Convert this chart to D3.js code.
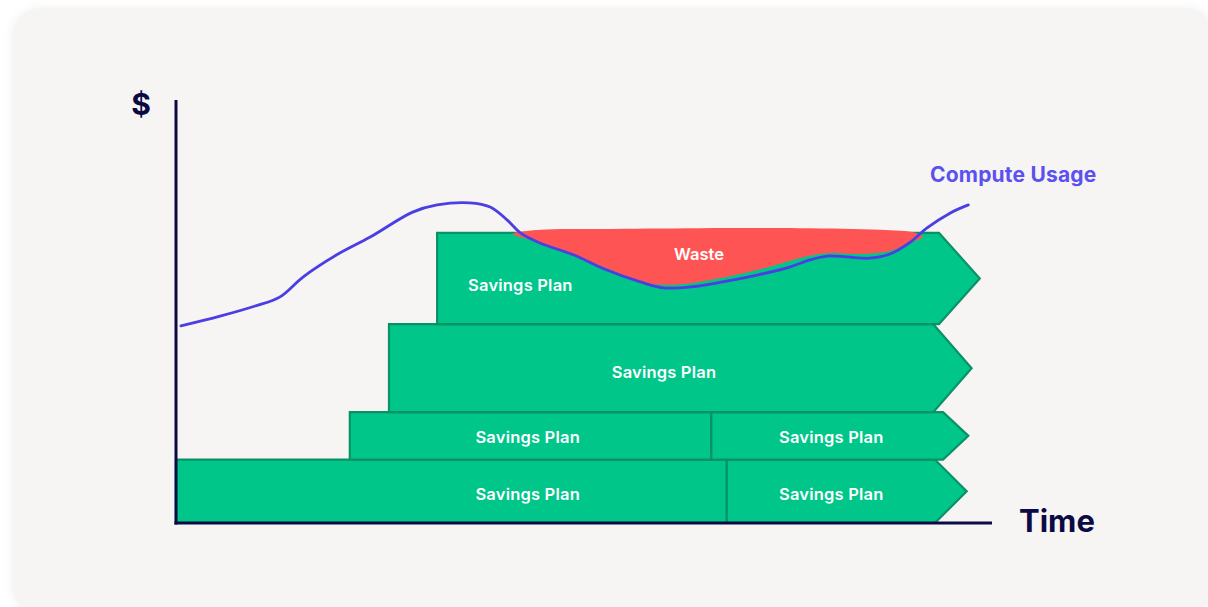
<!DOCTYPE html>
<html>
<head>
<meta charset="utf-8">
<script src="https://cdn.jsdelivr.net/npm/d3@7"></script>
<style>
  html, body { margin: 0; padding: 0; background: #ffffff; }
  svg { display: block; font-family: Inter, "Noto Sans", sans-serif; }
</style>
</head>
<body>
<svg id="chart" width="1208" height="607"></svg>
<script>
// ---------- data (time 0-100, $ 0-100) ----------
const usageT = [0.6, 5.4, 9.7, 12.7, 15.6, 19.7, 23.8, 29.0, 32.0, 36.0, 38.5, 40.6, 42.2, 44.6, 48.7, 52.8, 56.9, 59.7, 63.0, 67.0, 71.2, 75.2, 77.7, 79.8, 82.2, 85.0, 87.5, 90.0, 92.0, 94.9, 97.1];
const usageV = [46.6, 48.9, 51.3, 53.4, 58.2, 63.4, 67.6, 73.5, 75.2, 75.7, 74.7, 71.6, 68.6, 66.2, 63.4, 59.8, 57.0, 55.6, 55.8, 57.0, 58.6, 60.5, 62.2, 63.1, 62.9, 62.6, 63.6, 66.4, 69.7, 73.3, 75.2];

// savings plans, bottom row first
const planStart = [0, 67.5, 21.3, 65.6, 26.1, 32.0];
const planEnd = [67.5, 93.0, 65.6, 94.0, 92.8, 93.5];
const planTip = [null, 96.9, null, 97.1, 97.5, 98.5];
const planFloor = [0, 0, 15, 15, 26.2, 47];
const planCeil = [15, 15, 26.2, 26.2, 47, 68.6];
const planLabelT = [43.1, 80.3, 43.1, 80.3, 59.8, 42.2];
const planLabelV = [6.9, 6.9, 20.3, 20.3, 35.7, 56.3];
const planLabel = "Savings Plan";

// waste outline (top edge left->right, then lower edge right->left)
const wasteT = [41.3, 44.6, 52.0, 64.2, 76.5, 86.3, 90.6, 91.5, 89.3, 87.5, 83.8, 80.1, 77.7, 71.2, 64.2, 59.7, 56.9, 52.0, 47.1, 43.4];
const wasteV = [68.3, 69.3, 69.5, 69.7, 69.7, 69.3, 68.6, 67.6, 65.8, 64.3, 63.6, 63.8, 63.2, 59.8, 57.0, 56.3, 57.2, 60.8, 64.5, 66.9];
const wasteLabel = { t: 64.1, v: 63.6, text: "Waste" };

const usageLabel = { t: 92.4, v: 80.6, text: "Compute Usage" };

// ---------- setup ----------
const svg = d3.select("#chart");
const x = d3.scaleLinear().domain([0, 100]).range([176, 992]);
const y = d3.scaleLinear().domain([0, 100]).range([523, 100]);

const defs = svg.append("defs");
const shadow = defs.append("filter").attr("id", "card-shadow")
  .attr("x", "-5%").attr("y", "-5%").attr("width", "110%").attr("height", "110%");
shadow.append("feDropShadow")
  .attr("dx", 0).attr("dy", 0).attr("stdDeviation", 5)
  .attr("flood-color", "#000").attr("flood-opacity", 0.06);

// card
svg.append("rect")
  .attr("x", 12).attr("y", 8)
  .attr("width", 1202).attr("height", 606)
  .attr("rx", 28)
  .attr("fill", "#f6f5f4")
  .attr("filter", "url(#card-shadow)");

// ---------- savings plan bars ----------
const plans = planStart.map((s, i) => ({
  s, e: planEnd[i], tip: planTip[i],
  lo: planFloor[i], hi: planCeil[i],
  lt: planLabelT[i], lv: planLabelV[i]
}));

function planPath(d) {
  const x0 = x(d.s), x1 = x(d.e), y0 = y(d.hi), y1 = y(d.lo);
  const p = d3.path();
  p.moveTo(x0, y0);
  p.lineTo(x1, y0);
  if (d.tip != null) p.lineTo(x(d.tip), (y0 + y1) / 2);
  p.lineTo(x1, y1);
  p.lineTo(x0, y1);
  p.closePath();
  return p.toString();
}

svg.append("g")
  .selectAll("path")
  .data(plans)
  .join("path")
  .attr("d", planPath)
  .attr("fill", "#00c68a")
  .attr("stroke", "#0b9166")
  .attr("stroke-width", 2.2)
  .attr("stroke-linejoin", "miter");

svg.append("g")
  .selectAll("text")
  .data(plans)
  .join("text")
  .attr("x", (d) => x(d.lt))
  .attr("y", (d) => y(d.lv))
  .attr("text-anchor", "middle")
  .attr("dominant-baseline", "central")
  .attr("fill", "#ffffff")
  .attr("font-size", 16.5)
  .attr("font-weight", 600)
  .attr("letter-spacing", 0.2)
  .text(planLabel);

// ---------- waste ----------
const wastePts = wasteT.map((t, i) => [x(t), y(wasteV[i])]);
svg.append("path")
  .attr("d", d3.line().curve(d3.curveCatmullRomClosed.alpha(0.5))(wastePts))
  .attr("fill", "#ff5454");

svg.append("text")
  .attr("x", x(wasteLabel.t))
  .attr("y", y(wasteLabel.v))
  .attr("text-anchor", "middle")
  .attr("dominant-baseline", "central")
  .attr("fill", "#ffffff")
  .attr("font-size", 16.5)
  .attr("font-weight", 600)
  .text(wasteLabel.text);

// ---------- compute usage line ----------
const usagePts = usageT.map((t, i) => [x(t), y(usageV[i])]);
svg.append("path")
  .attr("d", d3.line().curve(d3.curveCatmullRom.alpha(0.5))(usagePts))
  .attr("fill", "none")
  .attr("stroke", "#4b3fe3")
  .attr("stroke-width", 2.8)
  .attr("stroke-linecap", "round");

svg.append("text")
  .attr("x", x(usageLabel.t))
  .attr("y", y(usageLabel.v))
  .attr("fill", "#5b50f0")
  .attr("font-size", 21)
  .attr("font-weight", 700)
  .attr("letter-spacing", 0.2)
  .text(usageLabel.text);

// ---------- axes ----------
const axisColor = "#0b0a45";
svg.append("line")
  .attr("x1", x(0)).attr("x2", x(0))
  .attr("y1", y(100)).attr("y2", y(0) + 1.5)
  .attr("stroke", axisColor).attr("stroke-width", 3);
svg.append("line")
  .attr("x1", x(0) - 1.5).attr("x2", x(100))
  .attr("y1", y(0)).attr("y2", y(0))
  .attr("stroke", axisColor).attr("stroke-width", 3);

svg.append("text")
  .attr("x", x(0) - 25)
  .attr("y", y(100) + 4)
  .attr("text-anchor", "end")
  .attr("dominant-baseline", "central")
  .attr("fill", axisColor)
  .attr("font-size", 30)
  .attr("font-weight", 700)
  .text("$");

svg.append("text")
  .attr("x", x(100) + 27)
  .attr("y", y(0) + 9)
  .attr("fill", axisColor)
  .attr("font-size", 31)
  .attr("font-weight", 700)
  .text("Time");
</script>
</body>
</html>
